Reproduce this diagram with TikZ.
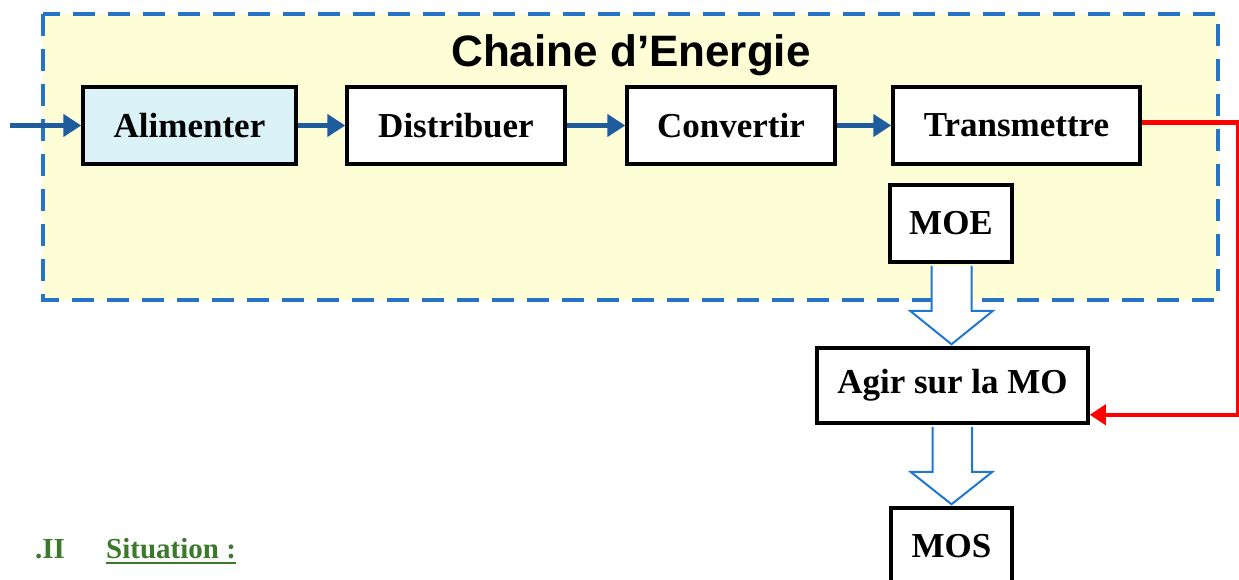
\documentclass[tikz,border=0pt]{standalone}
\usepackage{fontspec}
\setmainfont{Liberation Serif}
\newfontfamily\titlefont{Liberation Sans}
\usetikzlibrary{calc,arrows.meta}
\definecolor{zoneyellow}{HTML}{FDFDD6}
\definecolor{zoneblue}{HTML}{2673C8}
\definecolor{flowblue}{HTML}{1F5C9E}
\definecolor{alimfill}{HTML}{DAF2F8}
\definecolor{hollowblue}{HTML}{1F78D0}
\definecolor{sitgreen}{HTML}{3B7A2B}
\definecolor{redline}{HTML}{FF0000}
\tikzset{
  fbox/.style={draw=black, line width=3.5pt, fill=white, inner sep=0pt,
    minimum height=77pt, font=\fontsize{35}{40}\selectfont\bfseries},
  flow/.style={draw=flowblue, line width=5pt, -{Triangle[length=18pt,width=22pt]}},
  hollow/.style={draw=hollowblue, line width=2pt, fill=white, line join=miter},
  redflow/.style={draw=redline, line width=4.5pt, -{Triangle[length=16pt,width=20pt]}},
}
\begin{document}
\begin{tikzpicture}[x=1pt,y=-1pt]
\useasboundingbox (0,0) rectangle (1239,580);
\clip (0,0) rectangle (1239,580);
\fill[white] (0,0) rectangle (1239,580);
% zone
\draw[fill=zoneyellow, draw=zoneblue, line width=4pt, dash pattern=on 22pt off 13pt]
  (43,14) rectangle (1218,300);
\node[font=\titlefont\fontsize{44}{48}\selectfont\bfseries] (title) at (631,55) {Chaine d’Energie};
% boxes
\node[fbox, fill=alimfill, minimum width=213pt] (alim) at (189.5,125.5) {Alimenter};
\node[fbox, minimum width=218pt] (dist) at (456,125.5) {Distribuer};
\node[fbox, minimum width=208pt] (conv) at (731,125.5) {Convertir};
\node[fbox, minimum width=247pt] (trans) at (1016.5,125.5) {Transmettre};
\node[fbox, minimum width=122pt] (moe) at (951,223.5) {MOE};
\node[fbox, minimum width=271pt, minimum height=75pt] (agir) at (952.5,385.5) {Agir sur la MO};
\node[fbox, minimum width=121pt] (mos) at (951.5,546.5) {MOS};
% flow arrows
\coordinate (src) at (10,125.5);
\draw[flow] (src) -- (alim.west);
\draw[flow] (alim.east) -- (dist.west);
\draw[flow] (dist.east) -- (conv.west);
\draw[flow] (conv.east) -- (trans.west);
% red connector
\coordinate (agirin) at ($(agir.south east)+(0,-10)$);
\draw[redflow] ($(trans.east)+(0,-3)$) -- ++(96,0) |- (agirin);
% hollow arrows
\draw[hollow] ($(moe.south)+(-19.5,2)$) -- ($(moe.south)+(-19.5,47)$) -- ($(moe.south)+(-41,47)$)
  -- ($(agir.north)+(-1,-2)$) -- ($(moe.south)+(42,47)$) -- ($(moe.south)+(20.5,47)$) -- ($(moe.south)+(20.5,2)$);
\draw[hollow] ($(agir.south)+(-20,2)$) -- ($(agir.south)+(-20,47)$) -- ($(agir.south)+(-42,47)$)
  -- ($(mos.north)+(0,-2)$) -- ($(agir.south)+(40,47)$) -- ($(agir.south)+(19.5,47)$) -- ($(agir.south)+(19.5,2)$);
% situation
\node[anchor=base west, text=sitgreen, font=\fontsize{29}{32}\selectfont\bfseries, inner sep=0pt] (num) at (35,558) {.II};
\node[anchor=base west, text=sitgreen, font=\fontsize{29}{32}\selectfont\bfseries, inner sep=0pt] (sit) at (106,558) {Situation :};
\draw[sitgreen, line width=2pt] ($(sit.base west)+(0,5)$) -- ($(sit.base east)+(0,5)$);
\end{tikzpicture}
\end{document}
